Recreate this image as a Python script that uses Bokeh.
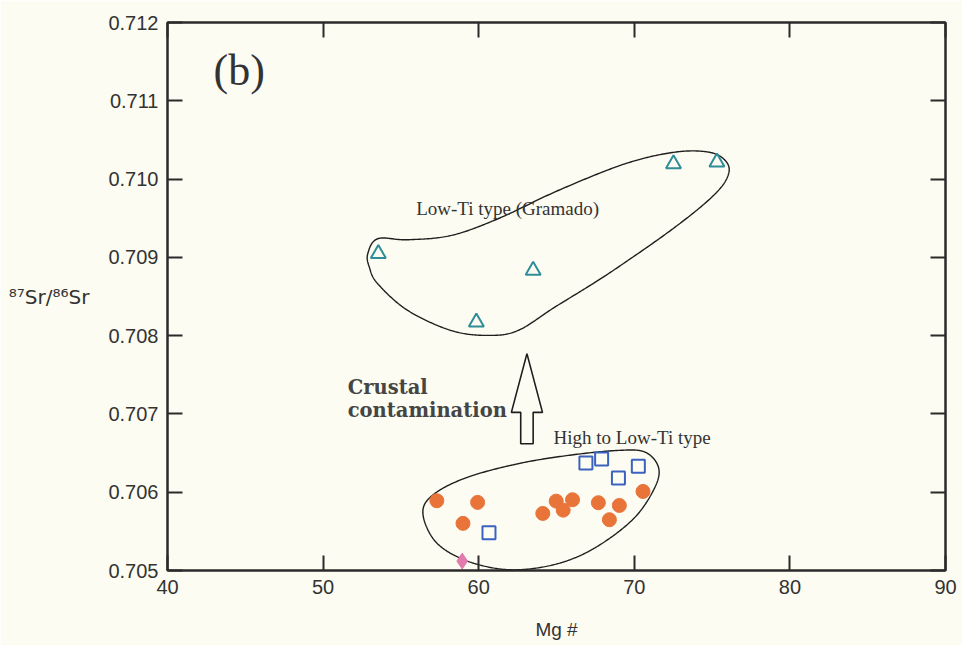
import numpy as np
from bokeh.plotting import figure
from bokeh.models import LinearAxis, Range1d, FixedTicker, Label, NumeralTickFormatter
from bokeh.embed import file_html
from bokeh.resources import INLINE

# ---------------- data ----------------
x_ticks = [40, 50, 60, 70, 80, 90]
y_ticks = [0.705, 0.706, 0.707, 0.708, 0.709, 0.710, 0.711, 0.712]

# Low-Ti type (Gramado) - open triangles
tri_mg = [53.55, 59.85, 63.50, 72.52, 75.31]
tri_sr = [0.709046, 0.708172, 0.708833, 0.710195, 0.710216]

# High to Low-Ti type - filled circles
cir_mg = [57.31, 58.99, 59.93, 64.12, 64.98, 65.43, 66.03, 67.69, 68.40, 69.04, 70.56]
cir_sr = [0.705891, 0.705602, 0.705870, 0.705729, 0.705886, 0.705771, 0.705904,
          0.705866, 0.705649, 0.705831, 0.706010]

# open squares
sq_mg = [60.66, 66.89, 67.90, 68.98, 70.26]
sq_sr = [0.705483, 0.706372, 0.706423, 0.706180, 0.706333]

# diamond
dia_mg = [58.94]
dia_sr = [0.705120]

# envelope outlines (control points)
up_x = [52.87, 53.51, 55.44, 58.23, 61.24, 65.11, 69.40, 72.62, 74.78, 75.84, 76.06,
        75.20, 72.62, 68.33, 64.89, 62.53, 60.60, 58.23, 55.44, 53.51, 52.97]
up_y = [0.709046, 0.709238, 0.709225, 0.709280, 0.709493, 0.709854, 0.710195, 0.710344,
        0.710344, 0.710238, 0.710068, 0.709812, 0.709386, 0.708791, 0.708364, 0.708066,
        0.708003, 0.708066, 0.708322, 0.708663, 0.708875]
lo_x = [56.41, 57.16, 59.31, 62.53, 65.75, 68.98, 70.69, 71.55, 71.33, 70.05, 67.90,
        65.75, 63.39, 61.24, 58.88, 57.16]
lo_y = [0.705746, 0.705981, 0.706193, 0.706364, 0.706470, 0.706534, 0.706512, 0.706320,
        0.706065, 0.705682, 0.705342, 0.705129, 0.705023, 0.705023, 0.705151, 0.705384]

# block arrow outline
arrow_x = [63.1, 62.1, 62.7, 62.7, 63.5, 63.5, 64.1]
arrow_y = [0.70777, 0.70702, 0.70702, 0.70662, 0.70662, 0.70702, 0.70702]

BG = "#fcfcf2"
INK = "#2b2b2b"
TXT = "#333333"


def closed_spline(xs, ys, n=30):
    P = np.column_stack([xs, ys]).astype(float)
    m = len(P)
    t = np.linspace(0, 1, n, endpoint=False)[:, None]
    segs = []
    for i in range(m):
        p0, p1, p2, p3 = P[(i - 1) % m], P[i], P[(i + 1) % m], P[(i + 2) % m]
        segs.append(0.5 * (2 * p1 + (-p0 + p2) * t + (2 * p0 - 5 * p1 + 4 * p2 - p3) * t ** 2
                           + (-p0 + 3 * p1 - 3 * p2 + p3) * t ** 3))
    out = np.vstack(segs)
    out = np.vstack([out, out[:1]])
    return out[:, 0], out[:, 1]


p = figure(width=962, height=645, x_range=Range1d(40, 90), y_range=Range1d(0.705, 0.712),
           output_backend="svg", toolbar_location=None,
           min_border_left=167, min_border_right=17, min_border_top=22, min_border_bottom=75)
p.background_fill_color = BG
p.border_fill_color = BG
p.outline_line_color = INK
p.outline_line_width = 2
p.xgrid.visible = False
p.ygrid.visible = False


def style(ax, labels=True):
    ax.axis_line_color = INK
    ax.axis_line_width = 2
    ax.major_tick_in = 15
    ax.major_tick_out = 0
    ax.major_tick_line_color = INK
    ax.major_tick_line_width = 2
    ax.minor_tick_line_color = None
    ax.major_label_text_font = "Liberation Sans"
    if labels:
        ax.major_label_text_color = TXT
        ax.major_label_text_font_size = "20px"
        ax.major_label_standoff = 9
    else:
        ax.major_label_text_color = None
        ax.major_label_text_font_size = "1px"
        ax.major_label_standoff = 0


xb = p.xaxis[0]
xb.ticker = FixedTicker(ticks=x_ticks)
style(xb)
xb.axis_label = "Mg #"
xb.axis_label_text_font = "Liberation Sans"
xb.axis_label_text_font_style = "normal"
xb.axis_label_text_font_size = "19px"
xb.axis_label_text_color = TXT
xb.axis_label_standoff = 22

yl = p.yaxis[0]
yl.ticker = FixedTicker(ticks=y_ticks)
yl.formatter = NumeralTickFormatter(format="0.000")
style(yl)
yl.axis_label = "⁸⁷Sr/⁸⁶Sr"
yl.axis_label_orientation = "horizontal"
yl.axis_label_text_font = "DejaVu Sans"
yl.axis_label_text_font_style = "normal"
yl.axis_label_text_font_size = "20px"
yl.axis_label_text_color = TXT
yl.axis_label_standoff = 16

xt = LinearAxis(ticker=FixedTicker(ticks=x_ticks))
style(xt, labels=False)
p.add_layout(xt, "above")
yr = LinearAxis(ticker=FixedTicker(ticks=y_ticks))
style(yr, labels=False)
p.add_layout(yr, "right")

# envelopes
ux, uy = closed_spline(up_x, up_y)
p.line(ux, uy, line_color="#1e1e1e", line_width=1.4)
lx, ly = closed_spline(lo_x, lo_y)
p.line(lx, ly, line_color="#1e1e1e", line_width=1.4)

# arrow
p.patch(arrow_x, arrow_y, fill_color=BG, line_color="#1e1e1e", line_width=1.6)

# markers
p.scatter(tri_mg, tri_sr, marker="triangle", size=15, fill_color=None,
          line_color="#2f8c98", line_width=2)
p.scatter(cir_mg, cir_sr, marker="circle", size=14, fill_color="#e8743a",
          line_color="#e8743a", line_width=1)
p.scatter(sq_mg, sq_sr, marker="square", size=13, fill_color=None,
          line_color="#3b62c0", line_width=2)
p.scatter(dia_mg, dia_sr, marker="diamond", size=16, fill_color="#e27aae",
          line_color="#e27aae", line_width=1)

# texts
p.add_layout(Label(x=42.96, y=0.711387, text="(b)", text_font="Liberation Serif",
                   text_font_size="44px", text_color=TXT,
                   text_align="left", text_baseline="middle"))
p.add_layout(Label(x=55.98, y=0.709625, text="Low-Ti type (Gramado)", text_font="Liberation Serif",
                   text_font_size="19px", text_color=TXT,
                   text_align="left", text_baseline="alphabetic"))
p.add_layout(Label(x=64.81, y=0.706696, text="High to Low-Ti type", text_font="Liberation Serif",
                   text_font_size="19px", text_color=TXT,
                   text_align="left", text_baseline="alphabetic"))
p.add_layout(Label(x=51.58, y=0.707340, text="Crustal", text_font="DejaVu Serif",
                   text_font_size="19.5px", text_font_style="bold", text_color="#454545",
                   text_align="left", text_baseline="alphabetic"))
p.add_layout(Label(x=51.58, y=0.707040, text="contamination", text_font="DejaVu Serif",
                   text_font_size="19.5px", text_font_style="bold", text_color="#454545",
                   text_align="left", text_baseline="alphabetic"))

open("out.html", "w").write(file_html(p, INLINE))
